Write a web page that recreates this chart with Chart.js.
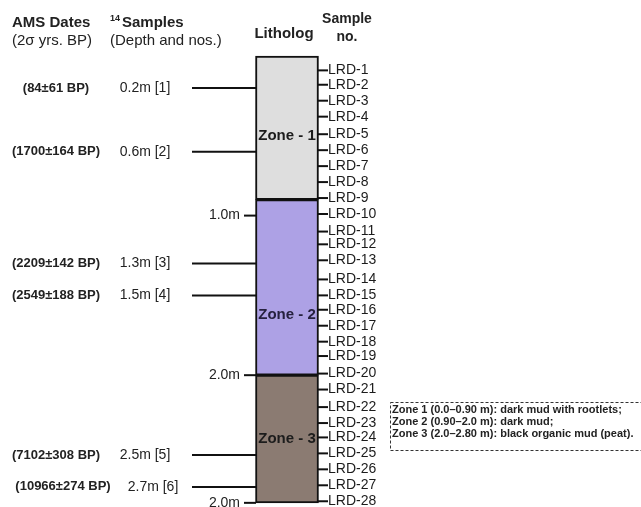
<!DOCTYPE html>
<html lang="en">
<head>
  <meta charset="UTF-8">
  <title>Litholog</title>
  <script src="https://cdn.jsdelivr.net/npm/chart.js"></script>
  <style>
    body { margin: 0; background: white; }
    canvas { display: block; }
  </style>
</head>
<body>
  <canvas id="litho" width="641" height="507"></canvas>

  <script>
    // zones of the core (depth in m)
    const zoneNames = ['Zone - 1', 'Zone - 2', 'Zone - 3'];
    const zoneTop = [0, 0.9, 2.0];
    const zoneBottom = [0.9, 2.0, 2.8];
    const zoneLabelDepth = [0.5, 1.62, 2.4];

    // sample numbers along the column
    const sampleIds = ['LRD-1', 'LRD-2', 'LRD-3', 'LRD-4', 'LRD-5', 'LRD-6', 'LRD-7',
      'LRD-8', 'LRD-9', 'LRD-10', 'LRD-11', 'LRD-12', 'LRD-13', 'LRD-14', 'LRD-15',
      'LRD-16', 'LRD-17', 'LRD-18', 'LRD-19', 'LRD-20', 'LRD-21', 'LRD-22', 'LRD-23',
      'LRD-24', 'LRD-25', 'LRD-26', 'LRD-27', 'LRD-28'];
    const sampleDepths = [0.09, 0.18, 0.28, 0.38, 0.49, 0.59, 0.69, 0.79, 0.89, 0.99,
      1.10, 1.18, 1.28, 1.40, 1.50, 1.59, 1.69, 1.79, 1.88, 1.99,
      2.09, 2.20, 2.30, 2.39, 2.49, 2.59, 2.69, 2.79];

    // 14C samples and AMS dates
    const c14Depths = [0.2, 0.6, 1.3, 1.5, 2.5, 2.7];
    const c14Labels = ['0.2m [1]', '0.6m [2]', '1.3m [3]', '1.5m [4]', '2.5m [5]', '2.7m [6]'];
    const amsDates = ['(84\u00b161 BP)', '(1700\u00b1164 BP)', '(2209\u00b1142 BP)',
      '(2549\u00b1188 BP)', '(7102\u00b1308 BP)', '(10966\u00b1274 BP)'];

    // depth marks on the left of the column
    const depthMarks = [1.0, 2.0, 2.8];
    const depthMarkLabels = ['1.0m', '2.0m', '2.0m'];

    const zoneNotes = [
      'Zone 1 (0.0\u20130.90 m): dark mud with rootlets;',
      'Zone 2 (0.90\u20132.0 m): dark mud;',
      'Zone 3 (2.0\u20132.80 m): black organic mud (peat).'
    ];

    const zoneColors = ['#dedede', '#ada1e5', '#8b7b72'];
    const FONT = '"Liberation Sans", Arial, sans-serif';
    const COL_X = 287;

    const c14Lines = c14Depths.map(d => ({
      type: 'line',
      data: [{ x: 192, y: d }, { x: 256, y: d }],
      borderColor: '#111',
      borderWidth: 2,
      pointRadius: 0
    }));

    const textPlugin = {
      id: 'texts',
      afterDatasetsDraw(chart) {
        const c = chart.ctx;
        const xs = chart.scales.x, ys = chart.scales.y;
        const px = v => xs.getPixelForValue(v);
        const py = v => ys.getPixelForValue(v);
        c.save();
        c.textBaseline = 'middle';

        // headers
        c.fillStyle = '#222';
        c.textAlign = 'left';
        c.font = 'bold 15px ' + FONT;
        c.fillText('AMS Dates', 12, 23);
        c.fillText('Samples', 122, 23);
        c.font = 'bold 9px ' + FONT;
        c.fillText('14', 110, 19);
        c.font = '15px ' + FONT;
        c.fillText('(2\u03c3 yrs. BP)', 12, 41);
        c.fillText('(Depth and nos.)', 110, 41);
        c.textAlign = 'center';
        c.font = 'bold 15px ' + FONT;
        c.fillText('Litholog', 284, 34);
        c.font = 'bold 14px ' + FONT;
        c.fillText('Sample', 347, 19);
        c.fillText('no.', 347, 37);

        // AMS dates and 14C depths
        c14Depths.forEach((d, i) => {
          c.font = 'bold 13px ' + FONT;
          c.textAlign = 'center';
          c.fillStyle = '#222';
          c.fillText(amsDates[i], px(i === 5 ? 63 : 56), py(d));
          c.font = '14px ' + FONT;
          c.fillText(c14Labels[i], px(i === 5 ? 153 : 145), py(d));
        });

        // depth marks
        c.font = '14px ' + FONT;
        c.textAlign = 'right';
        depthMarks.forEach((d, i) => {
          c.fillText(depthMarkLabels[i], px(240), py(d));
        });

        // zone names
        c.font = 'bold 15px ' + FONT;
        c.textAlign = 'center';
        zoneNames.forEach((z, i) => {
          c.fillStyle = i === 1 ? '#26213f' : '#1c1c1c';
          c.fillText(z, px(COL_X), py(zoneLabelDepth[i]));
        });

        // sample numbers
        c.font = '14px ' + FONT;
        c.textAlign = 'left';
        c.fillStyle = '#1c1c1c';
        sampleIds.forEach((s, i) => {
          c.fillText(s, px(328), py(sampleDepths[i]));
        });

        // zone description box
        c.setLineDash([3, 2]);
        c.strokeStyle = '#333';
        c.lineWidth = 1;
        c.strokeRect(390.5, 402.5, 270, 48);
        c.setLineDash([]);
        c.font = 'bold 11px ' + FONT;
        c.fillStyle = '#222';
        zoneNotes.forEach((t, i) => c.fillText(t, 392, 410 + i * 12));
        c.restore();
      }
    };

    new Chart(document.getElementById('litho'), {
      data: {
        datasets: [
          {
            type: 'bar',
            data: zoneTop.map((t, i) => ({ x: COL_X, y: [t, zoneBottom[i]] })),
            backgroundColor: zoneColors,
            borderColor: '#111',
            borderWidth: 2,
            borderSkipped: false,
            barThickness: 63,
            grouped: false
          },
          ...c14Lines,
          {
            type: 'scatter',
            data: sampleDepths.map(d => ({ x: 323, y: d })),
            pointStyle: 'line',
            radius: 5,
            borderWidth: 2,
            borderColor: '#111'
          },
          {
            type: 'scatter',
            data: depthMarks.map(d => ({ x: 250, y: d })),
            pointStyle: 'line',
            radius: 6,
            borderWidth: 2,
            borderColor: '#111'
          }
        ]
      },
      options: {
        responsive: false,
        animation: false,
        layout: { padding: 0, autoPadding: false },
        plugins: { legend: { display: false }, tooltip: { enabled: false } },
        scales: {
          x: { type: 'linear', min: 0, max: 641, offset: false, display: false },
          y: { type: 'linear', min: -0.351, max: 2.826, reverse: true, display: false }
        }
      },
      plugins: [textPlugin]
    });
  </script>
</body>
</html>
